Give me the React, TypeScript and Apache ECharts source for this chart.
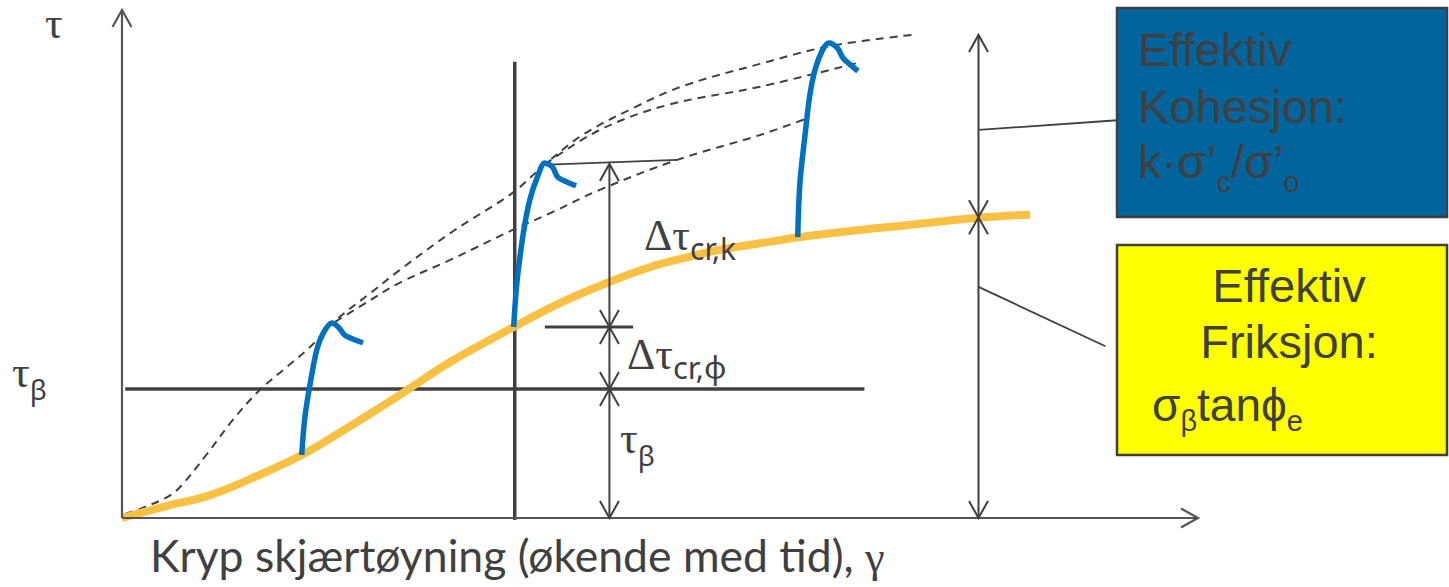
import { useEffect, useRef } from "react";
import * as echarts from "echarts";

const INK = "#404040";
const AXIS_INK = "#555555";
const STRENGTH_COLOR = "#F8C144";
const CREEP_COLOR = "#0070C0";
const COHESION_FILL = "#00659D";
const FRICTION_FILL = "#FFFF00";

const SERIF = "Liberation Serif";
const SANS = "Liberation Sans";
const SUB = "Noto Sans";
const LABEL = "Lato";

// Schematic scales: creep shear strain γ (x) and shear stress τ (y), both 0–100
const X_MAX = 100;
const Y_MAX = 100;

// Mobilised strength τ(γ): friction + cohesion
const strengthStrain = [0, 4.2, 8.2, 12.8, 16.7, 20.3, 25.8, 30.5, 36.4, 40.7, 45.1, 49.1, 51.9, 55.6, 61.2, 63.0, 67.7, 72.3, 79.6, 84.4];
const strengthStress = [0, 2.4, 4.5, 8.5, 12.4, 16.9, 24.2, 30.7, 37.6, 42.3, 46.3, 49.4, 51.0, 52.8, 54.7, 55.3, 56.5, 57.5, 59.1, 59.7];

// Envelope of creep-rupture peaks (dashed), origin → peak 1 → peak 2 → top
const envelopeStrain = [0.3, 1.9, 4.2, 5.4, 7.9, 10.3, 12.8, 15.3, 17.5, 19.8, 23.1, 25.8, 30.8, 36.3, 39.3, 42.8, 47.5, 52.1, 59.3, 65.8, 73.4];
const envelopeStress = [0.8, 2.0, 4.1, 6.1, 12.6, 19.3, 25.2, 29.7, 33.7, 38.8, 44.3, 48.8, 56.5, 64.0, 69.6, 75.4, 80.7, 85.0, 89.4, 92.9, 95.1];

// Middle dashed branch from peak 2
const middleStrain = [39.3, 44.4, 50.7, 59.3, 68.4];
const middleStress = [69.6, 76.4, 81.3, 84.9, 89.6];

// Lower dashed branch from peak 1
const lowerStrain = [19.8, 23.1, 25.8, 30.5, 36.3, 39.8, 44.4, 51.6, 59.3, 63.7];
const lowerStress = [38.6, 42.9, 46.3, 50.8, 56.7, 60.0, 64.6, 70.5, 75.4, 78.7];

// Creep curves (blue)
const creep1Strain = [16.7, 17.0, 17.5, 18.1, 18.7, 19.5, 20.1, 20.7, 21.5, 22.4];
const creep1Stress = [12.4, 19.9, 26.6, 33.1, 36.4, 38.4, 37.6, 36.0, 35.2, 34.5];
const creep2Strain = [36.4, 36.7, 37.3, 37.9, 38.6, 39.3, 40.0, 40.5, 41.4, 42.2];
const creep2Stress = [37.6, 46.3, 56.1, 62.6, 67.1, 69.9, 69.1, 67.1, 66.1, 65.4];
const creep3Strain = [62.8, 63.0, 63.5, 63.9, 64.4, 65.1, 65.7, 66.5, 67.0, 67.7, 68.4];
const creep3Stress = [55.3, 65.9, 75.8, 82.9, 88.2, 92.1, 93.5, 92.5, 90.6, 89.2, 88.0];

// Reference levels
const tauBeta = 25.4;
const frictionTop = 37.6;
const cohesionTop = 69.7;
const testStrain = 36.5;
const dimStrainA = 45.3;
const dimStrainB = 79.6;
const totalTop = 95.1;
const strengthAtB = 59.2;

// Straight reference segments [x1, y1, x2, y2]
const tauBetaLine = [0.3, tauBeta, 69.0, tauBeta];
const testLine = [testStrain, -0.4, testStrain, 89.8];
const frictionBar = [39.3, frictionTop, 47.5, frictionTop];
const peakTangent = [39.0, 69.5, 51.6, 70.5];
const leaderCohesion = [dimStrainB, 76.4, 92.5, 78.3];
const leaderFriction = [dimStrainB, 45.5, 91.4, 33.8];

// Arrows [x1, y1, x2, y2, headAtStart, headAtEnd]
const axisArrows = [
  [0, 0, X_MAX, 0, 0, 1],
  [0, 0, 0, Y_MAX, 0, 1],
];
const dimensionArrows = [
  [dimStrainA, cohesionTop, dimStrainA, frictionTop, 1, 1],
  [dimStrainA, frictionTop, dimStrainA, tauBeta, 1, 1],
  [dimStrainA, tauBeta, dimStrainA, 0, 1, 1],
  [dimStrainB, totalTop, dimStrainB, strengthAtB, 1, 1],
  [dimStrainB, strengthAtB, dimStrainB, 0, 1, 1],
];

const zip = (xs: number[], ys: number[]) => xs.map((x, i) => [x, ys[i]]);
const seg = (s: number[]) => [[s[0], s[1]], [s[2], s[3]]];

// Distance from the "central" baseline to the alphabetic baseline, in em
const CENTRAL: Record<string, number> = {
  [SERIF]: 0.3375,
  [SANS]: 0.3465,
  [SUB]: 0.388,
  [LABEL]: 0.387,
};

type Piece = { t: string; size: number; font: string; shift?: number };

const canvas = typeof document !== "undefined" ? document.createElement("canvas") : null;
const measure = (p: Piece) => {
  const ctx = canvas!.getContext("2d")!;
  ctx.font = `${p.size}px "${p.font}"`;
  return ctx.measureText(p.t).width;
};

// Lays a run of text pieces on a common baseline (with optional sub-shifts)
const run = (x: number, baseline: number, pieces: Piece[], align: "left" | "center" = "left", fill = INK) => {
  const widths = pieces.map(measure);
  const total = widths.reduce((a, b) => a + b, 0);
  let cx = align === "center" ? x - total / 2 : x;
  return pieces.map((p, i) => {
    const el = {
      type: "text",
      x: cx,
      y: baseline + (p.shift || 0) - CENTRAL[p.font] * p.size,
      silent: true,
      z: 100,
      style: { text: p.t, fontSize: p.size, fontFamily: p.font, fill, align: "left", verticalAlign: "middle" },
    };
    cx += widths[i];
    return el;
  });
};

const arrowRenderer = (color: string, width: number) => (_params: any, api: any) => {
  const a = api.coord([api.value(0), api.value(1)]);
  const b = api.coord([api.value(2), api.value(3)]);
  const stroke = { stroke: color, lineWidth: width, fill: null };
  const children: any[] = [{ type: "line", shape: { x1: a[0], y1: a[1], x2: b[0], y2: b[1] }, style: stroke }];
  const head = (tip: number[], from: number[]) => {
    const dx = tip[0] - from[0];
    const dy = tip[1] - from[1];
    const len = Math.hypot(dx, dy) || 1;
    const ux = dx / len;
    const uy = dy / len;
    const bx = tip[0] - ux * 17;
    const by = tip[1] - uy * 17;
    const nx = -uy * 9.5;
    const ny = ux * 9.5;
    return {
      type: "polyline",
      shape: { points: [[bx + nx, by + ny], [tip[0], tip[1]], [bx - nx, by - ny]] },
      style: stroke,
    };
  };
  if (api.value(4)) children.push(head(a, b));
  if (api.value(5)) children.push(head(b, a));
  return { type: "group", children };
};

const lineSeries = (data: number[][], color: string, width: number, z: number, extra: any = {}) => ({
  type: "line",
  data,
  symbol: "none",
  silent: true,
  clip: false,
  z,
  lineStyle: { color, width, cap: "butt", ...(extra.lineStyle || {}) },
  smooth: extra.smooth ?? false,
});

export default function App() {
  const ref = useRef<HTMLDivElement>(null);

  useEffect(() => {
    if (!ref.current) return;
    const chart = echarts.init(ref.current, null, { renderer: "svg" });

    const dashed = { lineStyle: { type: [8, 6] }, smooth: 0.35 };

    const texts = [
      ...run(45, 38, [{ t: "τ", size: 44, font: SERIF }]),
      ...run(12, 387, [
        { t: "τ", size: 44, font: SERIF },
        { t: "β", size: 28, font: SUB, shift: 13 },
      ]),
      ...run(620, 453, [
        { t: "τ", size: 44, font: SERIF },
        { t: "β", size: 28, font: SUB, shift: 13 },
      ]),
      ...run(644, 250, [
        { t: "Δτ", size: 44, font: SERIF },
        { t: "cr,k", size: 30, font: SUB, shift: 10 },
      ]),
      ...run(627, 369, [
        { t: "Δτ", size: 44, font: SERIF },
        { t: "cr,ϕ", size: 31, font: SUB, shift: 10 },
      ]),
      ...run(150, 572, [
        { t: "Kryp skjærtøyning (økende med tid), ", size: 44.5, font: LABEL },
        { t: "γ", size: 44.5, font: SERIF },
      ]),
      // cohesion panel
      ...run(1138, 66, [{ t: "Effektiv", size: 47, font: SANS }]),
      ...run(1138, 123, [{ t: "Kohesjon:", size: 47, font: SANS }]),
      ...run(1138, 178, [
        { t: "k·σ’", size: 47, font: SANS },
        { t: "c", size: 29, font: SANS, shift: 14 },
        { t: "/σ’", size: 47, font: SANS },
        { t: "o", size: 29, font: SANS, shift: 14 },
      ]),
      // friction panel
      ...run(1289, 302, [{ t: "Effektiv", size: 47, font: SANS }], "center"),
      ...run(1289, 358, [{ t: "Friksjon:", size: 47, font: SANS }], "center"),
      ...run(1152, 421, [
        { t: "σ", size: 46, font: SANS },
        { t: "β", size: 29, font: SANS, shift: 10 },
        { t: "tanϕ", size: 46, font: SANS },
        { t: "e", size: 29, font: SANS, shift: 10 },
      ]),
    ];

    chart.setOption({
      animation: false,
      backgroundColor: "#ffffff",
      grid: { left: 122, right: 251, top: 10, bottom: 69 },
      xAxis: { type: "value", min: 0, max: X_MAX, show: false },
      yAxis: { type: "value", min: 0, max: Y_MAX, show: false },
      series: [
        lineSeries(zip(envelopeStrain, envelopeStress), INK, 2, 2, dashed),
        lineSeries(zip(middleStrain, middleStress), INK, 2, 2, dashed),
        lineSeries(zip(lowerStrain, lowerStress), INK, 2, 2, dashed),
        lineSeries(seg(tauBetaLine), INK, 3.5, 3),
        lineSeries(seg(testLine), INK, 3.5, 3),
        lineSeries(seg(frictionBar), INK, 3, 3),
        lineSeries(seg(peakTangent), INK, 1.8, 3),
        lineSeries(seg(leaderCohesion), INK, 1.8, 3),
        lineSeries(seg(leaderFriction), INK, 1.8, 3),
        lineSeries(zip(strengthStrain, strengthStress), STRENGTH_COLOR, 8, 4, { smooth: 0.4 }),
        lineSeries(zip(creep1Strain, creep1Stress), CREEP_COLOR, 5.5, 5, { smooth: 0.3 }),
        lineSeries(zip(creep2Strain, creep2Stress), CREEP_COLOR, 5.5, 5, { smooth: 0.3 }),
        lineSeries(zip(creep3Strain, creep3Stress), CREEP_COLOR, 5.5, 5, { smooth: 0.3 }),
        {
          type: "custom",
          silent: true,
          z: 6,
          renderItem: arrowRenderer(AXIS_INK, 2.2),
          encode: { x: [0, 2], y: [1, 3] },
          data: axisArrows,
        },
        {
          type: "custom",
          silent: true,
          z: 6,
          renderItem: arrowRenderer(INK, 2),
          encode: { x: [0, 2], y: [1, 3] },
          data: dimensionArrows,
        },
      ],
      graphic: [
        {
          type: "rect",
          silent: true,
          z: 50,
          shape: { x: 1117, y: 8, width: 330, height: 209 },
          style: { fill: COHESION_FILL, stroke: INK, lineWidth: 2.5 },
        },
        {
          type: "rect",
          silent: true,
          z: 50,
          shape: { x: 1117, y: 245, width: 330, height: 210 },
          style: { fill: FRICTION_FILL, stroke: INK, lineWidth: 2.5 },
        },
        ...texts,
      ],
    });

    return () => chart.dispose();
  }, []);

  return (
    <div
      ref={ref}
      style={{ position: "fixed", left: 0, top: 0, width: 1449, height: 587, background: "#fff" }}
    />
  );
}
